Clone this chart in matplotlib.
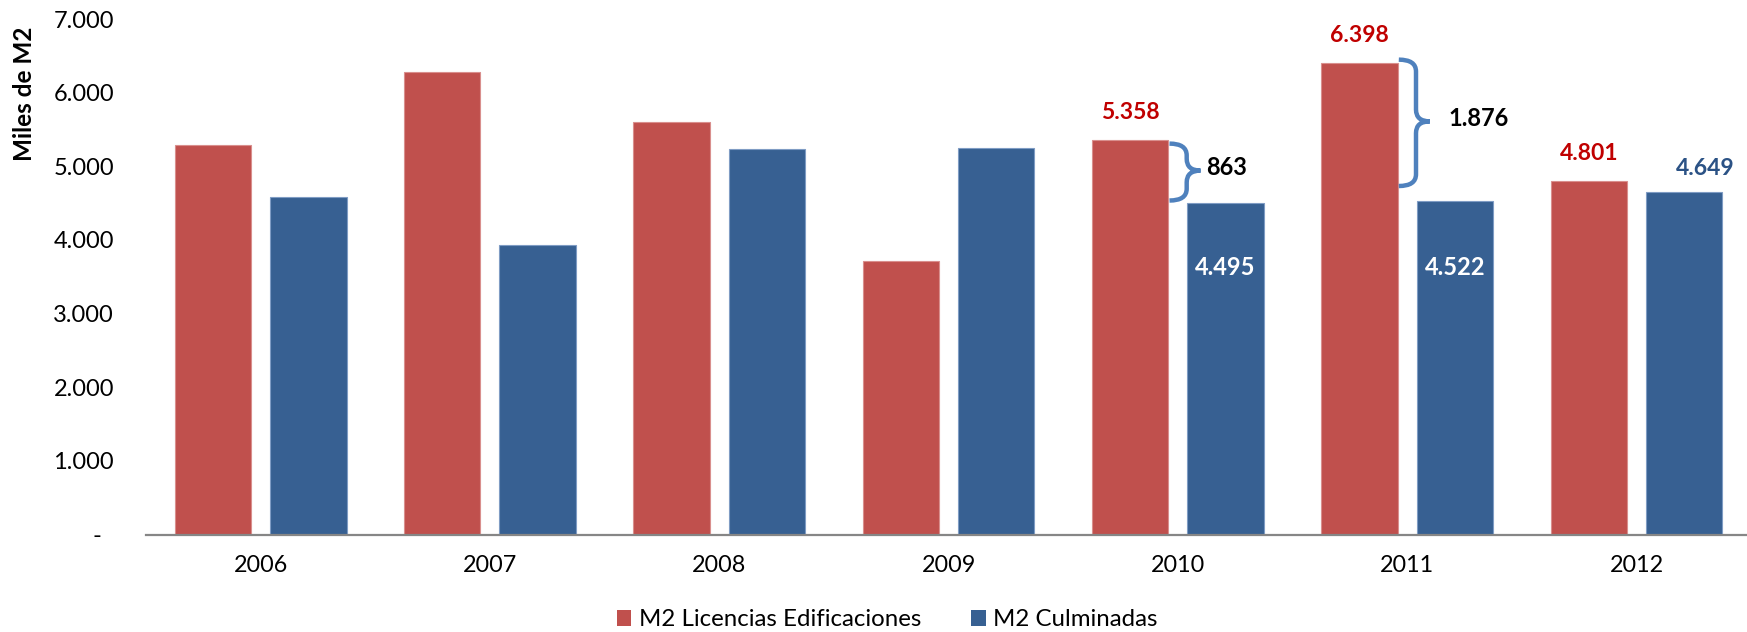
import numpy as np
import matplotlib
matplotlib.use("Agg")
import matplotlib.pyplot as plt
from matplotlib.path import Path
from matplotlib.patches import PathPatch, Patch

plt.rcParams['font.family'] = ['Lato', 'DejaVu Sans']

# data (miles de m2)
years = ['2006', '2007', '2008', '2009', '2010', '2011', '2012']
licencias = [5295, 6278, 5597, 3720, 5358, 6398, 4801]
culminadas = [4583, 3932, 5234, 5249, 4495, 4522, 4649]
yticks = [0, 1000, 2000, 3000, 4000, 5000, 6000, 7000]
brace_years = [4, 5]   # 2010, 2011

RED = '#C0504D'
BLUE = '#376092'


def fmt(v):
    return '{:,}'.format(int(v)).replace(',', '.')


fig = plt.figure(figsize=(17.47, 6.32), dpi=100)
ax = fig.add_axes([146 / 1747, 1 - 534.5 / 632, 1 - 146 / 1747, (534.5 - 19) / 632])

x = np.arange(len(years))
w = 0.333
off = w / 2 + 0.0415
ax.bar(x - off, licencias, w, color=RED, edgecolor='#D98F8D', linewidth=0.8, zorder=2)
ax.bar(x + off, culminadas, w, color=BLUE, edgecolor='#7F9CC4', linewidth=0.8, zorder=2)

ax.set_xlim(-0.5, 6.482)
ax.set_ylim(0, 7000)
ax.set_xticks(x)
ax.set_xticklabels(years)
ax.set_yticks(yticks)
ax.set_yticklabels([fmt(v) if v else '-  ' for v in yticks])
ax.tick_params(axis='x', length=0, pad=15, labelsize=16.8)
ax.tick_params(axis='y', length=0, pad=23, labelsize=17)
for s in ['top', 'right', 'left']:
    ax.spines[s].set_visible(False)
ax.spines['bottom'].set_color('#868686')
ax.spines['bottom'].set_linewidth(1.6)

fig.text(25 / 1747, 1 - 94 / 632, 'Miles de M2', rotation=90, fontsize=17.5,
         fontweight='bold', ha='center', va='center')

# value labels
for i in [4, 5, 6]:
    ax.annotate(fmt(licencias[i]), (x[i] - off, licencias[i]), xytext=(0, 20),
                textcoords='offset points', ha='center', va='center',
                fontsize=16.5, fontweight='bold', color='#C00000')
ax.annotate(fmt(culminadas[6]), (x[6] + off, culminadas[6]), xytext=(15, 17),
            textcoords='offset points', ha='center', va='center',
            fontsize=16.5, fontweight='bold', color='#2B5285')
for i in [4, 5]:
    ax.text(x[i] + off, 3620, fmt(culminadas[i]), ha='center', va='center',
            fontsize=17, fontweight='bold', color='white')


# braces showing the difference
def brace(x0, x1, x2, ytop, ybot, ymid, r):
    verts = [(x0, ytop), (x1, ytop), (x1, ytop - r), (x1, ymid + r),
             (x1, ymid), (x2, ymid), (x1, ymid), (x1, ymid - r),
             (x1, ybot + r), (x1, ybot), (x0, ybot)]
    codes = [Path.MOVETO, Path.CURVE3, Path.CURVE3, Path.LINETO,
             Path.CURVE3, Path.CURVE3, Path.CURVE3, Path.CURVE3,
             Path.LINETO, Path.CURVE3, Path.CURVE3]
    ax.add_patch(PathPatch(Path(verts, codes), facecolor='none',
                           edgecolor='#4F81BD', linewidth=3.2, zorder=3))


# (top pad, bottom pad, label gap)
pads = {4: (-50, 40, 0.16), 5: (50, 210, 0.215)}
for i in brace_years:
    top = licencias[i] + pads[i][0]
    bot = culminadas[i] + pads[i][1]
    mid = (top + bot) / 2 + 20
    x0 = x[i] - off + w / 2 + 0.005
    brace(x0, x0 + 0.075, x0 + 0.135, top, bot, mid, 160)
    ax.text(x0 + pads[i][2], mid + 40, fmt(licencias[i] - culminadas[i]), ha='left',
            va='center', fontsize=17, fontweight='bold', color='black')

handles = [Patch(facecolor=RED), Patch(facecolor=BLUE)]
fig.legend(handles, ['M2 Licencias Edificaciones', 'M2 Culminadas'],
           loc='center left', bbox_to_anchor=(617 / 1747, 1 - 620 / 632),
           ncol=2, frameon=False, fontsize=17.3, handlelength=0.6,
           handleheight=0.6, handletextpad=0.3, columnspacing=2.1,
           borderpad=0, borderaxespad=0)

fig.savefig('out.png', dpi=100)
